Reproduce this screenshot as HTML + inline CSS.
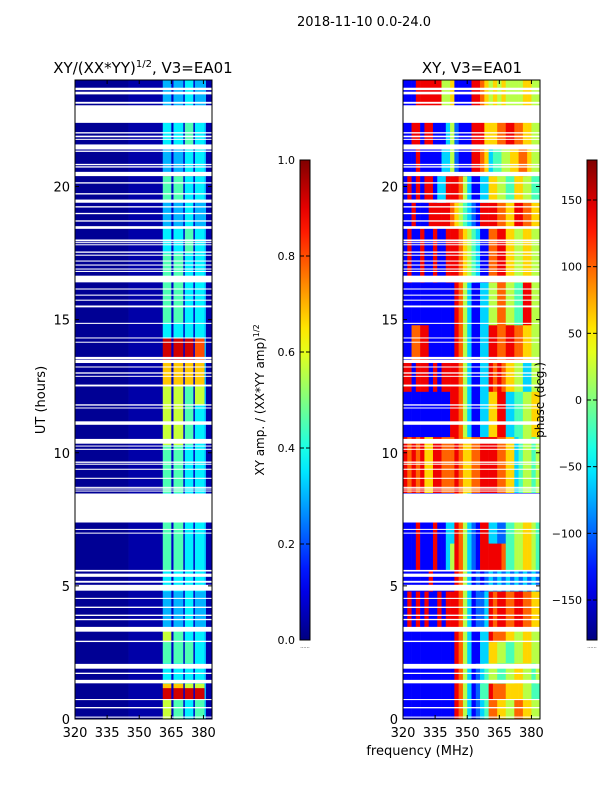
<!DOCTYPE html>
<html><head><meta charset="utf-8"><style>
html,body{margin:0;padding:0;background:#fff;}
svg text{font-family:"DejaVu Sans","Liberation Sans",sans-serif;fill:#000;}
</style></head><body>
<svg id="fig" xmlns="http://www.w3.org/2000/svg" width="600" height="800" viewBox="0 0 600 800">
<defs>
<linearGradient id="jetA" x1="0" y1="1" x2="0" y2="0"></linearGradient>
</defs>
<text x="364" y="26" font-size="13" text-anchor="middle">2018-11-10 0.0-24.0</text>
<text x="143" y="73" font-size="15" text-anchor="middle">XY/(XX*YY)<tspan font-size="10" dy="-6">1/2</tspan><tspan dy="6">, V3=EA01</tspan></text>
<text x="472" y="73" font-size="15" text-anchor="middle">XY, V3=EA01</text>
<g id="leftPanel"></g>
<g id="rightPanel"></g>
<g id="axes"></g>
<text transform="translate(45,400) rotate(-90)" font-size="13" text-anchor="middle">UT (hours)</text>
<text x="420" y="755" font-size="13" text-anchor="middle">frequency (MHz)</text>
<text transform="translate(264,400) rotate(-90)" font-size="12" text-anchor="middle">XY amp. / (XX*YY amp)<tspan font-size="8" dy="-5">1/2</tspan></text>
<text transform="translate(544,400) rotate(-90)" font-size="12" text-anchor="middle">phase (deg.)</text>
<g id="cbars"></g>
</svg>
<script>
// ---- data ----
var flagStart = [0.05,0.40,0.71,1.34,1.69,1.89,2.89,3.28,3.71,3.87,4.17,4.51,4.82,5.12,5.34,5.54,6.97,7.11,7.38,8.55,8.62,8.68,9.02,9.36,9.55,9.62,10.11,10.24,10.34,11.05,11.67,11.77,12.49,12.86,12.97,13.21,13.37,13.52,14.14,14.30,14.84,15.46,15.71,15.90,16.13,16.40,16.79,16.88,17.03,17.18,17.40,17.51,17.81,17.88,17.94,18.41,18.68,18.96,19.21,19.39,19.70,20.11,20.39,20.71,20.80,21.30,21.39,21.76,21.85,21.99,22.39,23.11,23.46,23.62];
var flagEnd   = [0.09,0.45,0.75,1.47,1.74,2.07,2.94,3.46,3.76,3.92,4.22,4.55,5.04,5.19,5.46,5.60,7.00,7.14,8.47,8.58,8.66,8.72,9.06,9.40,9.59,9.67,10.15,10.27,10.52,11.18,11.70,11.82,12.56,12.89,13.02,13.24,13.50,13.60,14.17,14.33,14.88,15.53,15.75,15.94,16.17,16.65,16.83,16.92,17.07,17.22,17.44,17.56,17.83,17.91,18.01,18.51,18.73,19.01,19.26,19.51,19.75,20.16,20.55,20.76,20.85,21.35,21.58,21.79,21.91,22.04,23.05,23.18,23.56,23.71];

var leftEdges = [320,345,361,365,366,370.6,371.3,375.3,376,380.5,381.2,384];
var leftLevels = [0.02,0.04,0.07,0.3,0.36,0.45,0.57,0.68,0.8,0.92];
var leftSegStart = [0,0.75,1.17,1.34,2.1,2.9,3.3,4.8,5.6,7.4,8.5,10.3,11.8,12.5,13.4,14.3,14.9,16.4,17.5,18.5,19.5,20.4,20.55,21.4,22.4,23.05];
var leftSegEnd   = [0.75,1.17,1.34,2.1,2.9,3.3,4.8,5.6,7.4,8.5,10.3,11.8,12.5,13.4,14.3,14.9,16.4,17.5,18.5,19.5,20.4,20.55,21.4,22.4,23.05,24];
var leftPatterns = ["01625242531","01929292931","01727262631","01424242431","01525252431","01625242431","01323242331","01424242431","01525242431","01424242431","01525242431","01626252431","01626252631","01727272731","01929292831","01424242431","01525242431","01525242431","01424252431","01323242331","01525242431","01828282831","01323242431","01424252431","01323242331","01323242331"];

var rightEdgeStart = 320, rightChanWidth = 2;
var phaseLevels = [-170,-135,-100,-60,-20,20,60,100,140,170];
var rightSegStart = [0,0.75,1.34,2.1,2.9,3.3,4.8,5.6,6.6,7.4,8.5,10.6,11.1,12.3,13.4,14.8,16.4,18.5,19.4,20.4,21.4,23.05];
var rightSegEnd   = [0.75,1.34,2.1,2.9,3.3,4.8,5.6,6.6,7.4,8.5,10.6,11.1,12.3,13.4,14.8,16.4,18.5,19.4,20.4,21.4,23.05,24];
var rightPatterns = [
"11111111111187531234776655776655",
"11111111111187531244877766665544",
"11111111111187531234554455665545",
"11111111111187531133665544556655",
"11111111111187531133877766556655",
"18181811818887531223878877887766",
"11111181111187531212323232323232",
"11181118113587532188888744556654",
"11181118113387532188332244556654",
"11111111111187531111111111111111",
"87878668877787667788887766345545",
"11111111111887531133668833445566",
"11111111111887531133668833445566",
"88188818188887531133878766553355",
"11778811111187531133887788776655",
"11111111111187531133557755448855",
"18118118118887654311778866556655",
"11811188888765432188887766887766",
"18181881338887531133665544665544",
"11181111133521118876344556677655",
"11881881113521118886667788776655",
"11188888855611118876565655556655"];

var yTicks = [0,5,10,15,20];
var xTicks = [320,335,350,365,380];
var ampTicks = [0.0,0.2,0.4,0.6,0.8,1.0];
var ampTickLabels = ["0.0","0.2","0.4","0.6","0.8","1.0"];
var phaseTicks = [-150,-100,-50,0,50,100,150];
var phaseTickLabels = ["\u2212150","\u2212100","\u221250","0","50","100","150"];

// ---- geometry ----
var NS = "http://www.w3.org/2000/svg";
var PT = 80, PB = 719;
var panels = [{x0:75,x1:212},{x0:403,x1:540}];
function yOf(h){ return PB - (h/24)*(PB-PT); }
function xOf(p,f){ return p.x0 + (f-320)/(384-320)*(p.x1-p.x0); }
function jet(v){
  v=Math.max(0,Math.min(1,v));
  function c(x){return Math.round(255*Math.max(0,Math.min(1,x)));}
  return "rgb("+c(1.5-Math.abs(4*v-3))+","+c(1.5-Math.abs(4*v-2))+","+c(1.5-Math.abs(4*v-1))+")";
}
function mk(tag,attrs,parent){
  var e=document.createElementNS(NS,tag);
  for(var k in attrs) e.setAttribute(k,attrs[k]);
  parent.appendChild(e); return e;
}

var LP=document.getElementById("leftPanel");
for(var s=0;s<leftSegStart.length;s++){
  var yt=yOf(leftSegEnd[s]), yb=yOf(leftSegStart[s]);
  for(var c=0;c<leftEdges.length-1;c++){
    var xa=xOf(panels[0],leftEdges[c]), xb=xOf(panels[0],leftEdges[c+1]);
    var v=leftLevels[+leftPatterns[s][c]];
    var r=mk("rect",{x:xa.toFixed(2),y:yt.toFixed(2),width:(xb-xa+0.3).toFixed(2),height:(yb-yt+0.3).toFixed(2),fill:jet(v)},LP);
    
    
  }
}
var RP=document.getElementById("rightPanel");
for(var s2=0;s2<rightSegStart.length;s2++){
  var yt2=yOf(rightSegEnd[s2]), yb2=yOf(rightSegStart[s2]);
  for(var c2=0;c2<rightPatterns[s2].length;c2++){
    var f0=rightEdgeStart+c2*rightChanWidth;
    var xa2=xOf(panels[1],f0), xb2=xOf(panels[1],f0+rightChanWidth);
    var ph=phaseLevels[+rightPatterns[s2][c2]];
    var r2=mk("rect",{x:xa2.toFixed(2),y:yt2.toFixed(2),width:(xb2-xa2+0.3).toFixed(2),height:(yb2-yt2+0.3).toFixed(2),fill:jet((ph+180)/360)},RP);
    
    
  }
}
// flagged rows
[LP,RP].forEach(function(g,pi){
  var p=panels[pi];
  for(var i=0;i<flagStart.length;i++){
    var a=yOf(flagEnd[i]), b=yOf(flagStart[i]);
    var fr=mk("rect",{x:p.x0,y:a.toFixed(2),width:p.x1-p.x0,height:Math.max(1,b-a).toFixed(2),fill:"#fff"},g);
    
    
  }
});

// axes
var AX=document.getElementById("axes");
panels.forEach(function(p,pi){
  var fr=mk("rect",{x:p.x0,y:PT,width:p.x1-p.x0,height:PB-PT,fill:"none",stroke:"#000","stroke-width":1},AX);
  
  
  yTicks.forEach(function(t){
    var y=yOf(t);
    mk("line",{x1:p.x0,x2:p.x0+4,y1:y,y2:y,stroke:"#000"},AX);
    mk("line",{x1:p.x1,x2:p.x1-4,y1:y,y2:y,stroke:"#000"},AX);
    var tl=mk("text",{x:p.x0-5,y:y+5,"font-size":13,"text-anchor":"end"},AX);
    tl.textContent=String(t);
    
    
  });
  xTicks.forEach(function(t){
    var x=xOf(p,t);
    mk("line",{x1:x,x2:x,y1:PB,y2:PB-4,stroke:"#000"},AX);
    mk("line",{x1:x,x2:x,y1:PT,y2:PT+4,stroke:"#000"},AX);
    var tl=mk("text",{x:x,y:737,"font-size":13,"text-anchor":"middle"},AX);
    tl.textContent=String(t);
    
    
  });
});

// colorbars
var grad=document.getElementById("jetA");
for(var k=0;k<=20;k++){
  mk("stop",{offset:(k/20).toFixed(3),"stop-color":jet(k/20)},grad);
}
var CB=document.getElementById("cbars");
var cbs=[{x:300,ticks:ampTicks,labels:ampTickLabels,lo:0,hi:1,name:"amplitude-colorbar"},
         {x:587,ticks:phaseTicks,labels:phaseTickLabels,lo:-180,hi:180,name:"phase-colorbar"}];
cbs.forEach(function(cb){
  var r=mk("rect",{x:cb.x,y:160,width:10,height:480,fill:"url(#jetA)",stroke:"#000","stroke-width":1},CB);
  
  
  for(var i=0;i<cb.ticks.length;i++){
    var y=640-(cb.ticks[i]-cb.lo)/(cb.hi-cb.lo)*480;
    mk("line",{x1:cb.x,x2:cb.x+4,y1:y,y2:y,stroke:"#000"},CB);
    mk("line",{x1:cb.x+10,x2:cb.x+6,y1:y,y2:y,stroke:"#000"},CB);
    var t=mk("text",{x:cb.x-5,y:y+4,"font-size":11,"text-anchor":"end"},CB);
    t.textContent=cb.labels[i];
    
    
  }
  var d=mk("text",{x:cb.x+5,y:648,"font-size":5,"text-anchor":"middle",fill:"#999"},CB);
  d.textContent="......";
  
  
});
</script>
</body></html>
